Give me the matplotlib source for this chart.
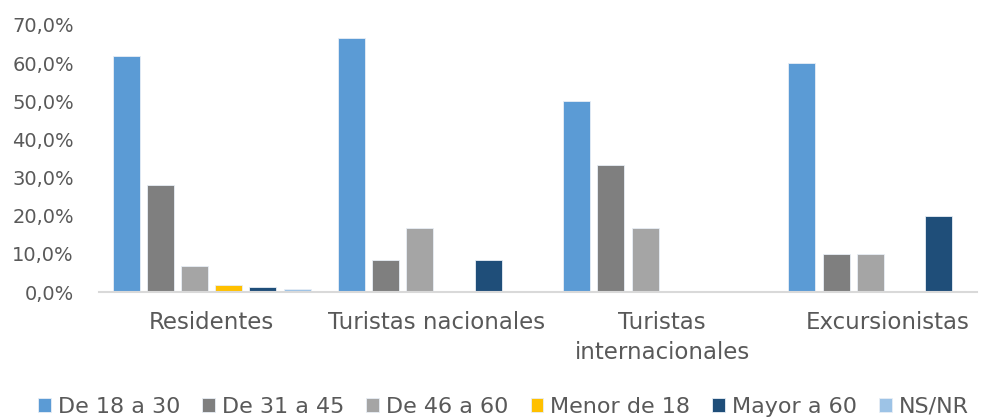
import numpy as np
import matplotlib
matplotlib.use("Agg")
import matplotlib.pyplot as plt
from matplotlib.ticker import FuncFormatter

# datos (porcentajes por grupo de edad)
categorias = ["Residentes", "Turistas nacionales", "Turistas\ninternacionales", "Excursionistas"]
series = ["De 18 a 30", "De 31 a 45", "De 46 a 60", "Menor de 18", "Mayor a 60", "NS/NR"]
de_18_a_30 = [61.9, 66.7, 50.0, 60.0]
de_31_a_45 = [28.1, 8.3, 33.3, 10.0]
de_46_a_60 = [6.9, 16.7, 16.7, 10.0]
menor_de_18 = [1.8, 0.0, 0.0, 0.0]
mayor_a_60 = [1.3, 8.3, 0.0, 20.0]
ns_nr = [0.8, 0.0, 0.0, 0.0]
colores = ["#5B9BD5", "#7F7F7F", "#A5A5A5", "#FFC000", "#1F4E79", "#9DC3E6"]

valores = [de_18_a_30, de_31_a_45, de_46_a_60, menor_de_18, mayor_a_60, ns_nr]
texto = "#595959"
plt.rcParams['font.family'] = ['DejaVu Sans']

fig = plt.figure(figsize=(9.87, 4.18), dpi=100)
ax = fig.add_axes([99/987, 1 - 292/418, 901/987, (292 - 25)/418])

x = np.arange(len(categorias))
paso = 0.1518
ancho = 0.12
for i, (nombre, vals, c) in enumerate(zip(series, valores, colores)):
    vals = np.array(vals)
    pos = x + (i - 2.5) * paso
    m = vals > 0
    ax.bar(pos[m], vals[m], width=ancho, color=c, edgecolor="#E8EEF5", linewidth=0.6, label=nombre)

ax.set_xlim(-0.5, 3.5)
ax.set_ylim(0, 70)
ax.set_yticks(np.arange(0, 71, 10))
ax.yaxis.set_major_formatter(FuncFormatter(lambda v, p: ("%.1f%%" % v).replace(".", ",")))
ax.set_xticks(x)
ax.set_xticklabels(categorias, linespacing=1.35)
ax.tick_params(axis="both", length=0, colors=texto)
ax.tick_params(axis="x", pad=14, labelsize=16.5)
ax.tick_params(axis="y", pad=18, labelsize=14)

for s in ["top", "right", "left"]:
    ax.spines[s].set_visible(False)
ax.spines["bottom"].set_color("#D9D9D9")
ax.spines["bottom"].set_linewidth(1.5)
ax.spines["bottom"].set_bounds(-0.5, 3.398)

fig.legend(loc="center", bbox_to_anchor=(0.51, 1 - 407/418), ncol=6, frameon=False,
           fontsize=16, labelcolor=texto, handlelength=0.58, handleheight=0.58,
           handletextpad=0.3, columnspacing=1.0, borderpad=0)

fig.savefig("out.png", dpi=100)
